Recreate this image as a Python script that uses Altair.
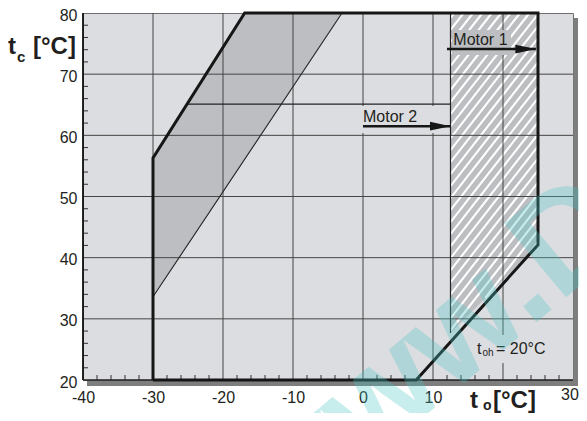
import math
import altair as alt
import pandas as pd

FONT = "Liberation Sans"
INK = "#231f20"
BG = "#dcdde0"
SHADE = "#bdbec2"
LINE = "#161616"

W, H = 490, 367
X_DOMAIN = [-40, 30]
Y_DOMAIN = [20, 80]

# axis ticks / grid
x_labels = [-40, -30, -20, -10, 0, 10]
x_last_label = [30]
y_labels = [20, 30, 40, 50, 60, 70, 80]
x_grid = [-30, -20, -10, 0, 10, 20]
y_grid = [30, 40, 50, 60, 70]
x_minor = [-38, -36, -34, -32, -28, -26, -24, -22, -18, -16, -14, -12, -8, -6, -4, -2,
           2, 4, 6, 8, 12, 14, 16, 18, 22, 24, 26, 28]
y_minor = [22, 24, 26, 28, 32, 34, 36, 38, 42, 44, 46, 48, 52, 54, 56, 58,
           62, 64, 66, 68, 72, 74, 76, 78]

# application envelope (thick outline)
env_x = [-30, -30, -16.9, 25, 25, 7.6, -30]
env_y = [20, 56.3, 80, 80, 42.1, 20, 20]

# shaded band
band_x = [-30, -30, -16.9, -3.0]
band_y = [33.6, 56.3, 80, 80]
thin_x = [-30, -3.0]
thin_y = [33.6, 80]

# hatched zone (t_oh = 20°C)
hatch_x = [12.5, 25, 25, 12.5]
hatch_y = [80, 80, 42.1, 27.7]

# Motor 2 limit line
m2_x = [-25.1, 12.5]
m2_y = [65.1, 65.1]

# arrows + labels
motors = ["Motor 1", "Motor 2"]
arrow_from = [12.0, 0.0]
arrow_to = [24.7, 12.5]
arrow_y = [74.1, 61.5]
text_x = [12.9, 0.0]
text_y = [74.7, 62.2]

# ---------------------------------------------------------------
SX = W / (X_DOMAIN[1] - X_DOMAIN[0])
SY = H / (Y_DOMAIN[1] - Y_DOMAIN[0])


def to_px(x, y):
    return ((x - X_DOMAIN[0]) * SX, (Y_DOMAIN[1] - y) * SY)


def to_data(px, py):
    return (px / SX + X_DOMAIN[0], Y_DOMAIN[1] - py / SY)


# hatch pattern segments clipped to the hatched polygon
poly = [to_px(x, y) for x, y in zip(hatch_x, hatch_y)]
ang = math.radians(52)
dv = (math.cos(ang), -math.sin(ang))
nv = (math.sin(ang), math.cos(ang))
proj = [p[0] * nv[0] + p[1] * nv[1] for p in poly]
spacing = 7.4
rows = []
c = min(proj) + 3.0
while c < max(proj):
    pts = []
    for i in range(len(poly)):
        a = poly[i]
        b = poly[(i + 1) % len(poly)]
        pa = a[0] * nv[0] + a[1] * nv[1]
        pb = b[0] * nv[0] + b[1] * nv[1]
        if pa != pb and (pa - c) * (pb - c) <= 0:
            t = (c - pa) / (pb - pa)
            pts.append((a[0] + t * (b[0] - a[0]), a[1] + t * (b[1] - a[1])))
    if len(pts) >= 2:
        pts.sort(key=lambda p: p[0] * dv[0] + p[1] * dv[1])
        x0, y0 = to_data(*pts[0])
        x1, y1 = to_data(*pts[-1])
        rows.append({"hx": x0, "hy": y0, "hx2": x1, "hy2": y1})
    c += spacing
hatch_df = pd.DataFrame(rows)

xs = alt.Scale(domain=X_DOMAIN, nice=False, zero=False)
ys = alt.Scale(domain=Y_DOMAIN, nice=False, zero=False)
x_axis = alt.Axis(values=x_labels, title=None, grid=False, ticks=False, tickSize=0,
                  domain=False, labelFontSize=16, labelFont=FONT, labelColor=INK,
                  labelPadding=9, labelFlush=False, labelExpr="'' + datum.value")
y_axis = alt.Axis(values=y_labels, title=None, grid=False, ticks=False, tickSize=0,
                  domain=False, labelFontSize=16, labelFont=FONT, labelColor=INK,
                  labelPadding=6, labelFlush=False, labelOffset=2,
                  labelExpr="'' + datum.value")


def X(f):
    return alt.X(f"{f}:Q", scale=xs, axis=x_axis, title=None)


def Y(f):
    return alt.Y(f"{f}:Q", scale=ys, axis=y_axis, title=None)


one = pd.DataFrame({"k": [0]})


def poly_df(px_, py_):
    return pd.DataFrame({"x": px_, "y": py_, "o": list(range(len(px_)))})


def box(x0, x1, y0, y1, fill):
    return alt.Chart(one).mark_rect(fill=fill, strokeWidth=0).encode(
        x=alt.value(x0), x2=alt.value(x1), y=alt.value(y0), y2=alt.value(y1))


def txt(s, x, y, size, weight="normal", color=INK):
    return alt.Chart(one).mark_text(text=s, fontSize=size, fontWeight=weight, font=FONT,
                                    align="left", baseline="alphabetic", color=color).encode(
        x=alt.value(x), y=alt.value(y))


layers = []

# drop shadow
layers.append(box(4, W + 5, H + 1, H + 6, "#7e7e7e"))
layers.append(box(W + 0.5, W + 5, 5, H + 6, "#7e7e7e"))

# shaded band
layers.append(alt.Chart(poly_df(band_x, band_y)).mark_line(
    fill=SHADE, color=SHADE, strokeWidth=0.5).encode(x=X("x"), y=Y("y"), order="o:Q"))

# hatched zone
layers.append(alt.Chart(poly_df(hatch_x, hatch_y)).mark_line(
    fill=SHADE, color=SHADE, strokeWidth=0.5).encode(x=X("x"), y=Y("y"), order="o:Q"))
layers.append(alt.Chart(hatch_df).mark_rule(color="white", strokeWidth=2.1).encode(
    x=X("hx"), y=Y("hy"), x2="hx2:Q", y2="hy2:Q"))

# grid
layers.append(alt.Chart(pd.DataFrame({"gx": x_grid})).mark_rule(
    color="#454545", strokeWidth=1).encode(x=X("gx")))
layers.append(alt.Chart(pd.DataFrame({"gy": y_grid})).mark_rule(
    color="#454545", strokeWidth=1).encode(y=Y("gy")))

# label knock-out boxes
layers.append(box(277, 366, 93, 120, BG))
layers.append(box(369, 428, 17, 42, SHADE))
layers.append(box(391, 472, 322, 350, BG))

# minor ticks
layers.append(alt.Chart(pd.DataFrame({"my": y_minor})).mark_rule(
    color="#333333", strokeWidth=1).encode(y=Y("my"), x=alt.value(0), x2=alt.value(5)))
layers.append(alt.Chart(pd.DataFrame({"mx": x_minor})).mark_rule(
    color="#333333", strokeWidth=1).encode(x=X("mx"), y=alt.value(H), y2=alt.value(H - 5)))

# frame
layers.append(alt.Chart(one).mark_rule(color="#111111", strokeWidth=1.8).encode(
    x=alt.value(0), y=alt.value(0), y2=alt.value(H)))
layers.append(alt.Chart(one).mark_rule(color="#222222", strokeWidth=1.4).encode(
    x=alt.value(0), x2=alt.value(W), y=alt.value(H)))

# thin band edge, motor-2 line, hatched edge
layers.append(alt.Chart(poly_df(thin_x, thin_y)).mark_line(color="#222222", strokeWidth=1.1).encode(
    x=X("x"), y=Y("y"), order="o:Q"))
layers.append(alt.Chart(poly_df(m2_x, m2_y)).mark_line(color="#222222", strokeWidth=1.3).encode(
    x=X("x"), y=Y("y"), order="o:Q"))
layers.append(alt.Chart(pd.DataFrame({"ex": [hatch_x[0]], "ey": [hatch_y[0]], "ey2": [hatch_y[3]]}))
              .mark_rule(color="#222222", strokeWidth=1.2).encode(x=X("ex"), y=Y("ey"), y2="ey2:Q"))

# envelope
layers.append(alt.Chart(poly_df(env_x, env_y)).mark_line(
    color=LINE, strokeWidth=3, strokeJoin="miter").encode(x=X("x"), y=Y("y"), order="o:Q"))

# arrows
arr = pd.DataFrame({"label": motors, "a0": arrow_from, "a1": arrow_to, "ay": arrow_y,
                    "tx": text_x, "ty": text_y})
layers.append(alt.Chart(arr).mark_rule(color=LINE, strokeWidth=2.5).encode(
    x=X("a0"), x2="a1:Q", y=Y("ay")))
layers.append(alt.Chart(arr).mark_point(shape="M0,0L-2,-0.42L-2,0.42Z", size=420, filled=True,
                                        color=LINE, opacity=1, strokeWidth=0).encode(
    x=X("a1"), y=Y("ay")))
layers.append(alt.Chart(arr).mark_text(align="left", baseline="alphabetic", fontSize=16,
                                       font=FONT, color=INK).encode(
    x=X("tx"), y=Y("ty"), text="label:N"))

# last x tick label (drawn separately so it stays inside the page)
layers.append(alt.Chart(pd.DataFrame({"lv": x_last_label, "ls": [str(v) for v in x_last_label]}))
              .mark_text(align="center", baseline="top", fontSize=16, font=FONT, color=INK, dx=-3)
              .encode(x=X("lv"), y=alt.value(H + 7), text="ls:N"))

# titles
layers.append(txt("t", -75, 41, 24, "bold"))
layers.append(txt("c", -66, 49, 15, "bold"))
layers.append(txt("[°C]", -50, 41, 24, "bold"))
layers.append(txt("t", 387, 395, 24, "bold"))
layers.append(txt("o", 400, 397, 14, "bold"))
layers.append(txt("[°C]", 410, 395, 24, "bold"))

# t_oh label
layers.append(txt("t", 394, 341, 16))
layers.append(txt("oh", 399.5, 343, 10))
layers.append(txt("= 20°C", 413, 341, 16))

# watermark
layers.append(alt.Chart(one).mark_text(text="www.D", angle=320, fontSize=140, font=FONT,
                                       fontWeight="bold", align="left", baseline="alphabetic",
                                       color="#4cc6c6", opacity=0.3).encode(
    x=alt.value(200), y=alt.value(522)))

chart = alt.layer(*layers).properties(
    width=W, height=H,
    padding={"left": 75, "top": 5, "right": 6, "bottom": 33},
    autosize=alt.AutoSizeParams(type="none"),
).configure_view(stroke="#6e6e6e", strokeWidth=1, fill=BG)

chart.save("out.html", embed_options={"renderer": "svg", "actions": False})
